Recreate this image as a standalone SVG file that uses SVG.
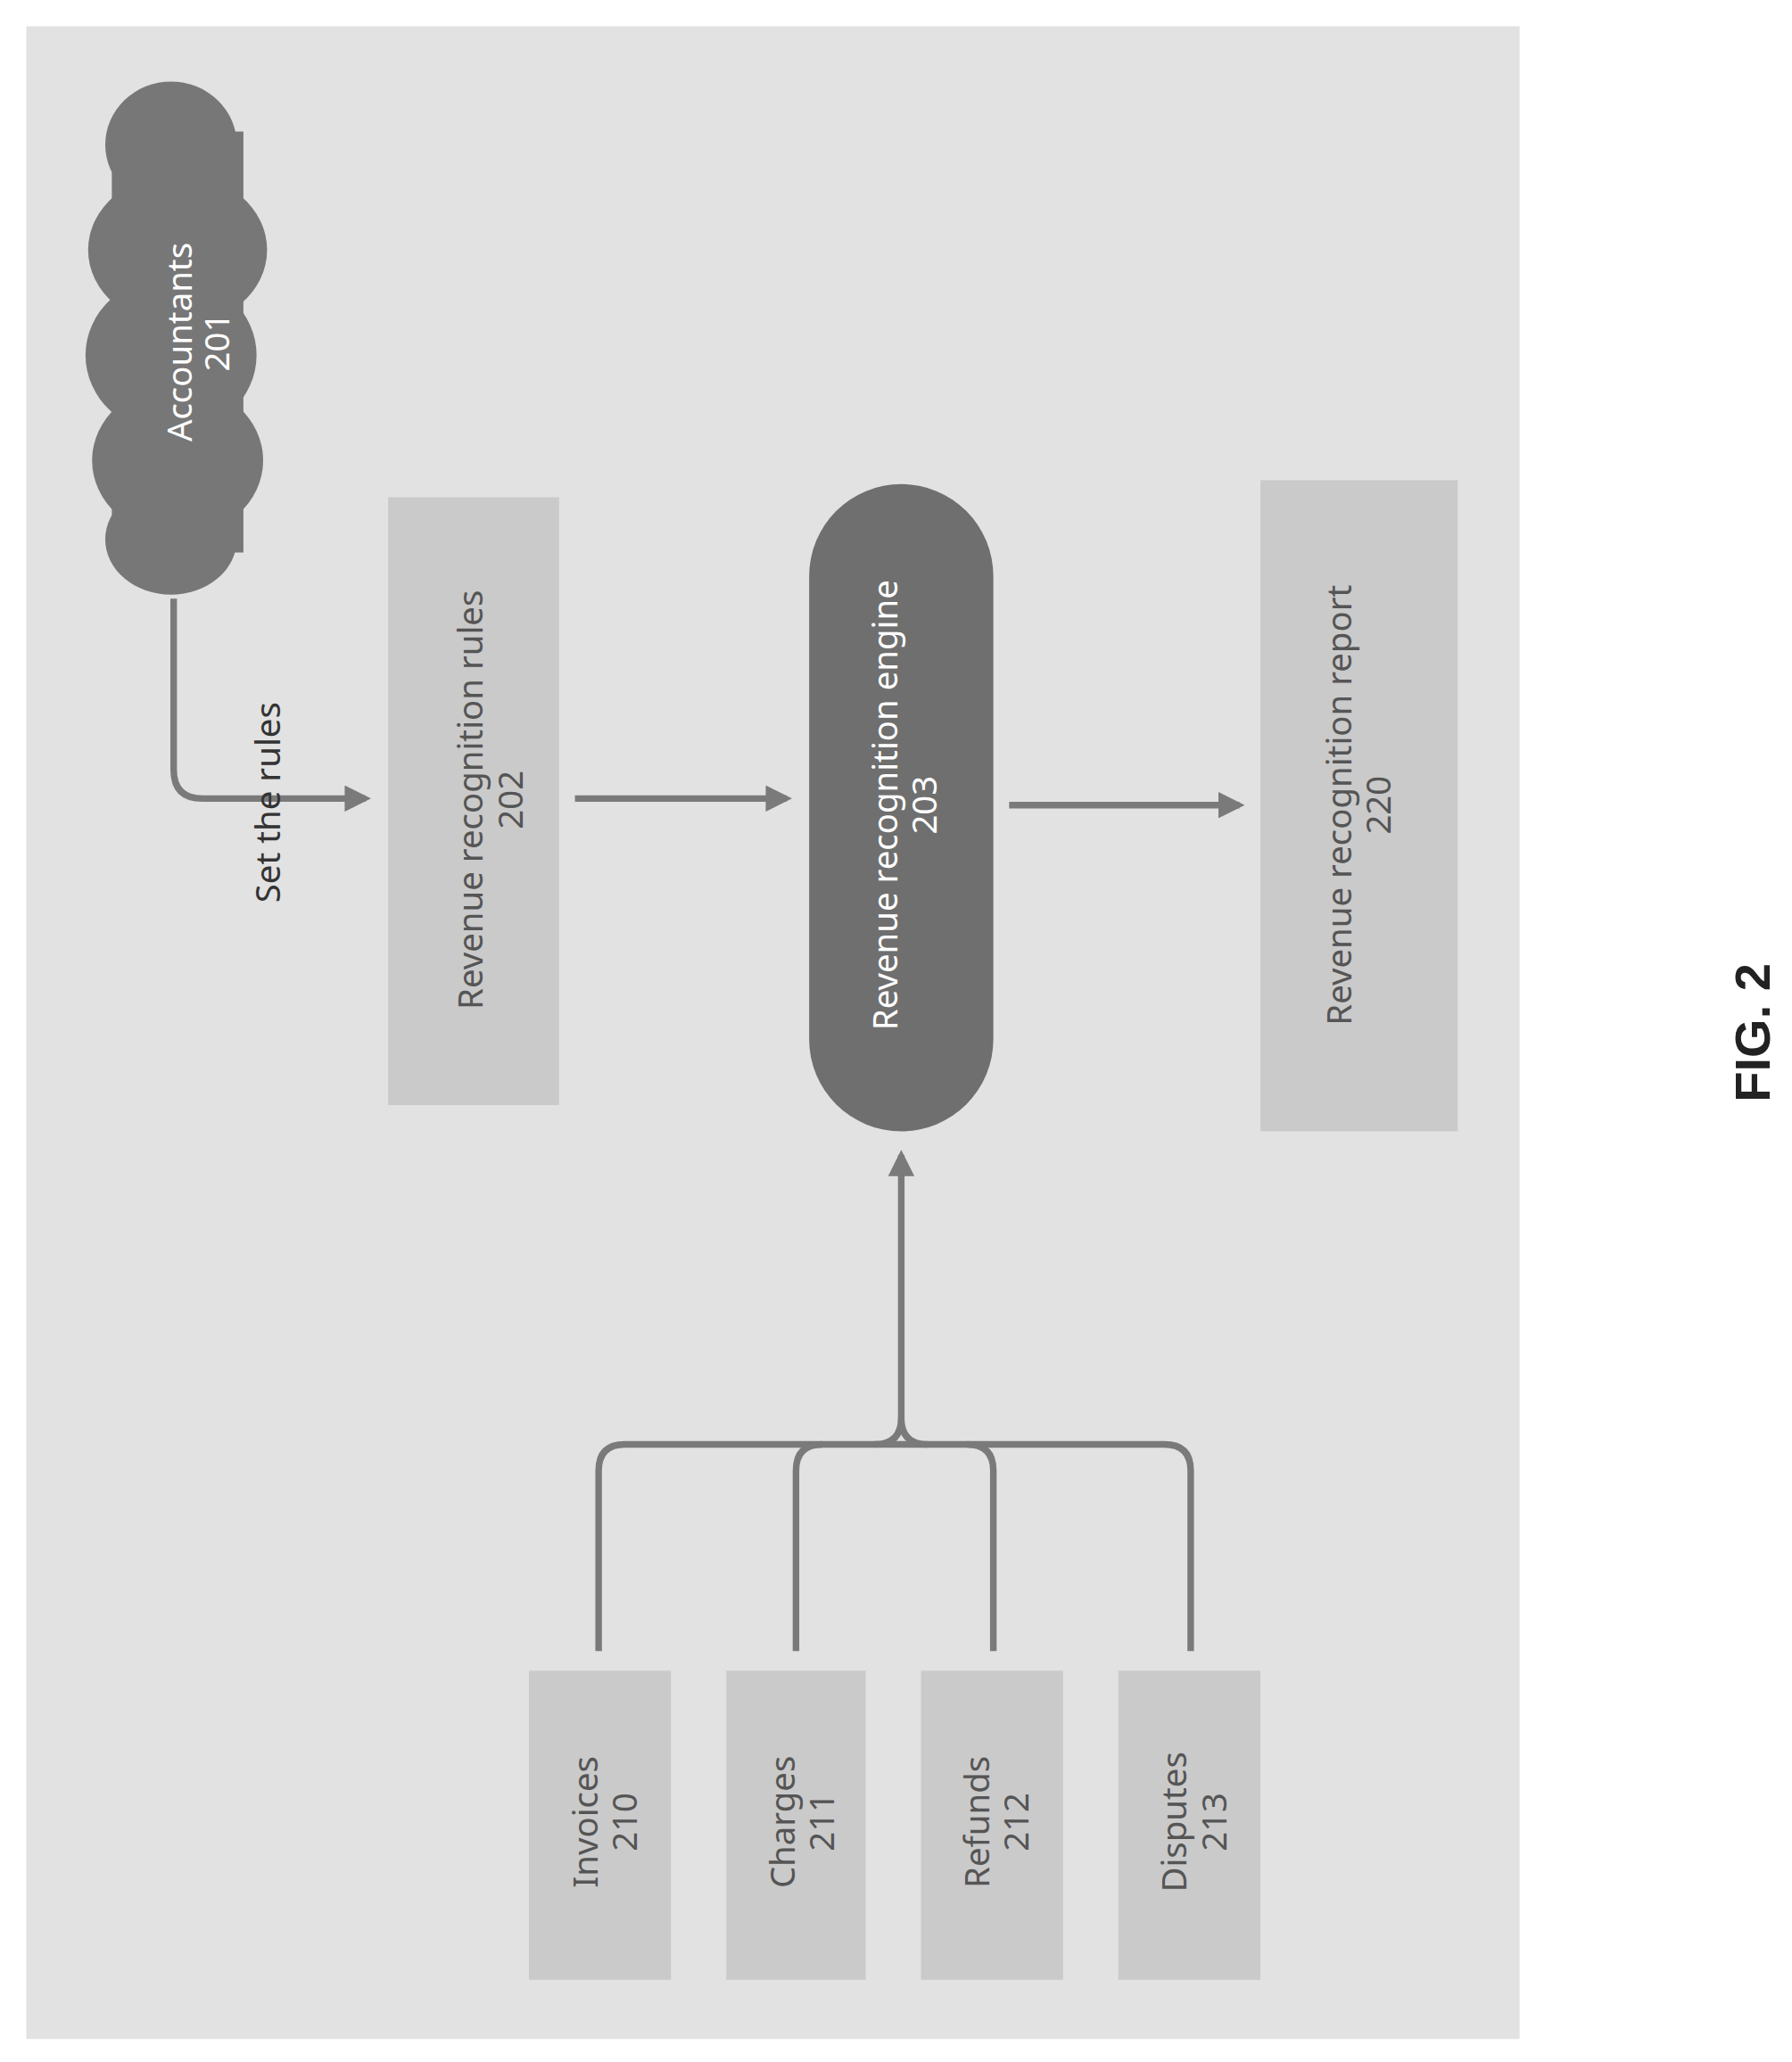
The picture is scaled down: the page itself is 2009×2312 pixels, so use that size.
<svg xmlns="http://www.w3.org/2000/svg" width="2009" height="2312" viewBox="0 0 2009 2312">
<style>
.t{font-family:"Noto Sans","Liberation Sans",sans-serif;font-size:26px;text-anchor:middle;fill:#555}
.w{fill:#fff}
.lt{fill:#cacaca}
.ln{fill:none;stroke:#7a7a7a;stroke-width:5}
</style>
<defs>
<marker id="a" viewBox="0 0 10 10" refX="8" refY="5" markerWidth="4" markerHeight="4" orient="auto"><path d="M0,0 L10,5 L0,10 z" fill="#7a7a7a"/></marker>
</defs>
<rect width="2009" height="2312" fill="#fff"/>
<g transform="scale(1.475)">
<rect x="20" y="20" width="1135" height="1530" fill="#e2e2e2"/>
<g id="n201">
<g fill="#777">
<ellipse cx="130" cy="110" rx="50" ry="48"/>
<ellipse cx="135" cy="190" rx="68" ry="58"/>
<ellipse cx="130" cy="270" rx="65" ry="60"/>
<ellipse cx="135" cy="350" rx="65" ry="58"/>
<ellipse cx="130" cy="410" rx="50" ry="42"/>
<rect x="85" y="100" width="100" height="320"/>
</g>
<text class="t w" transform="translate(150,260) rotate(-90)"><tspan x="0" y="-4">Accountants</tspan><tspan x="0" y="24">201</tspan></text>
</g>
<g id="n202"><rect class="lt" x="295" y="378" width="130" height="462"/>
<text class="t" transform="translate(375,608) rotate(-90)"><tspan x="0" y="-8">Revenue recognition rules</tspan><tspan x="0" y="22">202</tspan></text></g>
<g id="n203"><rect x="615" y="368" width="140" height="492" rx="70" fill="#6f6f6f"/>
<text class="t w" transform="translate(690,612) rotate(-90)"><tspan x="0" y="-8">Revenue recognition engine</tspan><tspan x="0" y="22">203</tspan></text></g>
<g id="n220"><rect class="lt" x="958" y="365" width="150" height="495"/>
<text class="t" transform="translate(1035,612) rotate(-90)"><tspan x="0" y="-8">Revenue recognition report</tspan><tspan x="0" y="22">220</tspan></text></g>
<g id="n210"><rect class="lt" x="402" y="1270" width="108" height="235"/>
<text class="t" transform="translate(462,1385) rotate(-90)"><tspan x="0" y="-8">Invoices</tspan><tspan x="0" y="22">210</tspan></text></g>
<g id="n211"><rect class="lt" x="552" y="1270" width="106" height="235"/>
<text class="t" transform="translate(612,1385) rotate(-90)"><tspan x="0" y="-8">Charges</tspan><tspan x="0" y="22">211</tspan></text></g>
<g id="n212"><rect class="lt" x="700" y="1270" width="108" height="235"/>
<text class="t" transform="translate(760,1385) rotate(-90)"><tspan x="0" y="-8">Refunds</tspan><tspan x="0" y="22">212</tspan></text></g>
<g id="n213"><rect class="lt" x="850" y="1270" width="108" height="235"/>
<text class="t" transform="translate(910,1385) rotate(-90)"><tspan x="0" y="-8">Disputes</tspan><tspan x="0" y="22">213</tspan></text></g>
<g id="connectors">
<path class="ln" d="M132,455 V585 Q132,607 154,607 H278" marker-end="url(#a)"/>
<path class="ln" d="M437,607 H598" marker-end="url(#a)"/>
<path class="ln" d="M767,612 H942" marker-end="url(#a)"/>
<path class="ln" d="M455,1255 V1118 Q455,1098 475,1098 H885 Q905,1098 905,1118 V1255"/>
<path class="ln" d="M605,1255 V1118 Q605,1098 625,1098"/>
<path class="ln" d="M755,1255 V1118 Q755,1098 735,1098"/>
<path class="ln" d="M665,1098 Q685,1098 685,1078 V878" marker-end="url(#a)"/>
<path class="ln" d="M705,1098 Q685,1098 685,1078"/>
</g>
<text class="t" transform="translate(213,610) rotate(-90)" style="fill:#333">Set the rules</text>
<text transform="translate(1345,785) rotate(-90)" style="font-family:'Liberation Sans',sans-serif;font-weight:bold;font-size:38px;text-anchor:middle;fill:#222">FIG. 2</text>
</g>
</svg>
